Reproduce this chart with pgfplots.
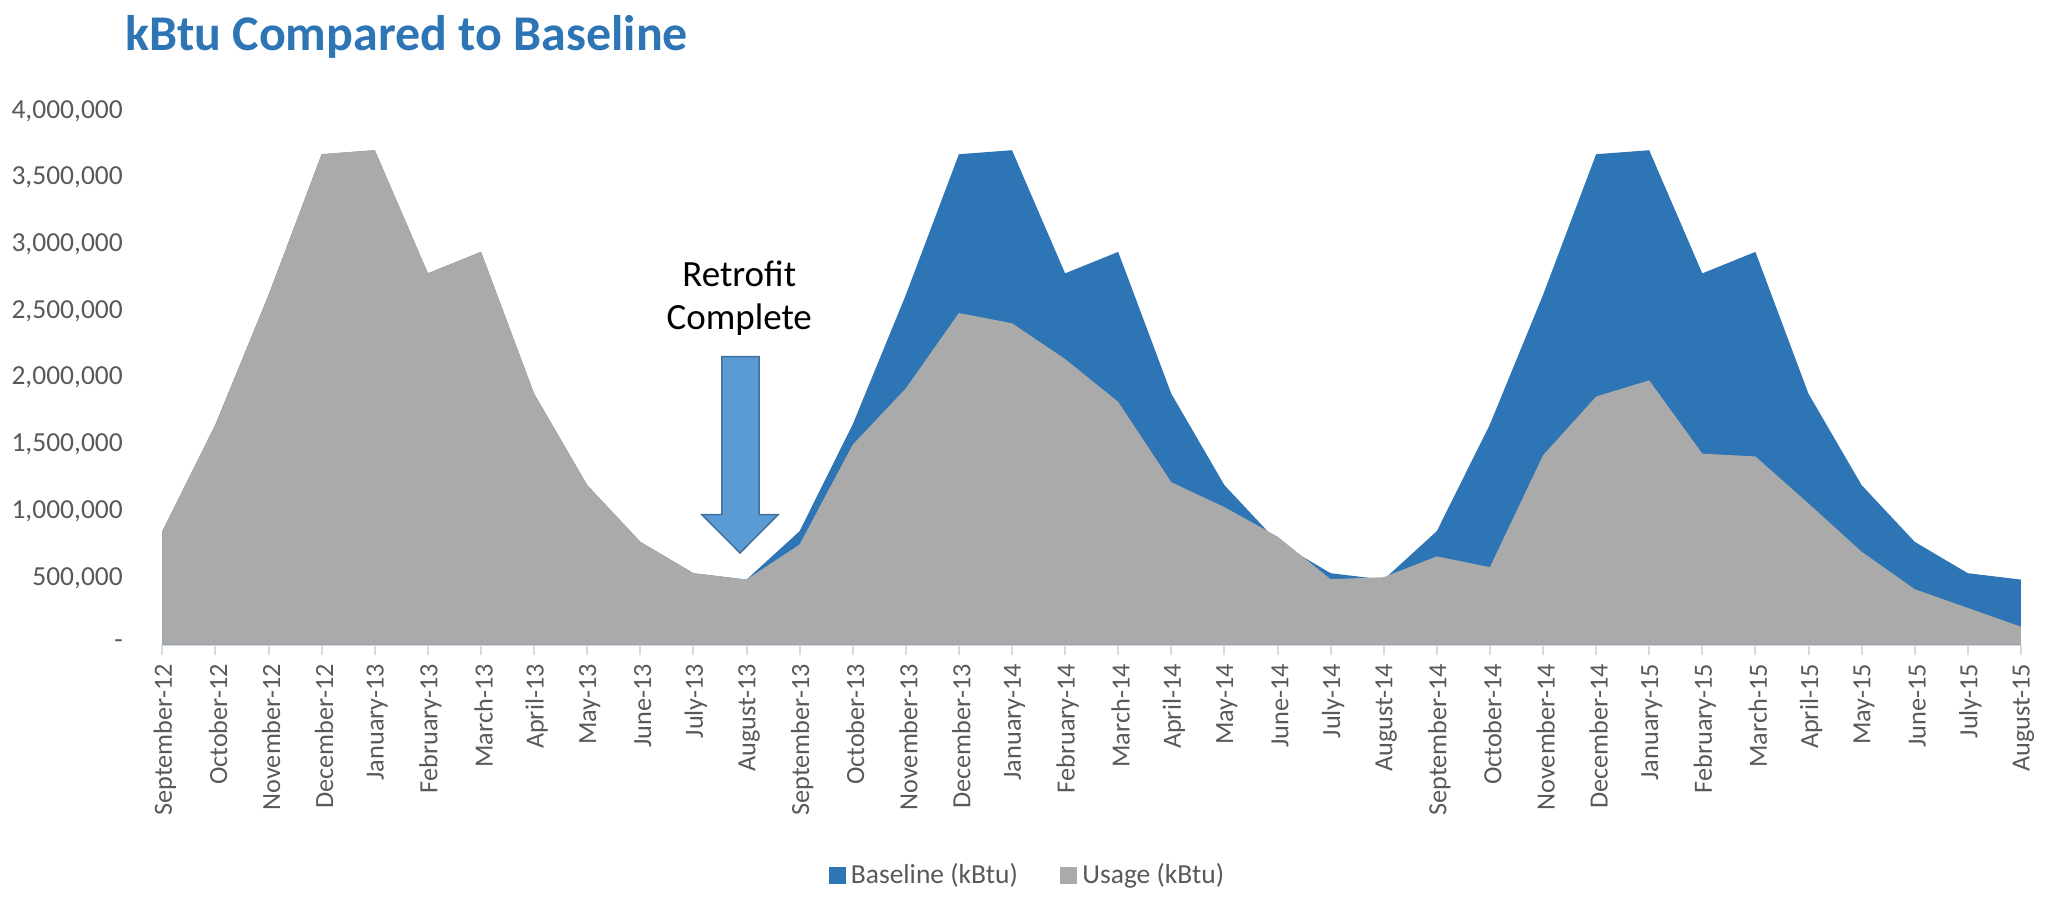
\documentclass[border=0pt]{standalone}
\usepackage{fontspec}
\setmainfont{Carlito}
\usepackage{pgfplots}
\pgfplotsset{compat=1.18}
\definecolor{baseblue}{RGB}{46,117,182}
\definecolor{usegray}{RGB}{170,170,170}
\definecolor{labelgray}{RGB}{89,89,89}
\definecolor{axisgray}{RGB}{217,217,217}
\definecolor{arrowfill}{RGB}{91,155,213}
\definecolor{arrowdraw}{RGB}{65,113,156}
\begin{document}
\begin{tikzpicture}[x=1pt,y=1pt]
\path[use as bounding box] (0,0) rectangle (819.2,362.8);
\node[anchor=west, text=baseblue, font=\fontsize{20}{24}\selectfont\bfseries, inner sep=0pt] at (50,348) {kBtu Compared to Baseline};
\begin{axis}[
  at={(64.96pt,104.96pt)}, anchor=south west,
  scale only axis, width=743.4pt, height=213.5pt,
  xmin=0, xmax=35, ymin=0, ymax=4000000,
  axis x line*=bottom, axis y line*=left,
  y axis line style={draw=none},
  x axis line style={draw=axisgray, line width=0.8pt, -},
  ytick style={draw=none},
  xtick style={draw=axisgray, line width=0.8pt},
  tick align=outside, major tick length=4.3pt,
  scaled y ticks=false,
  xtick={0,...,35},
  xticklabels={September-12,October-12,November-12,December-12,January-13,February-13,March-13,April-13,May-13,June-13,July-13,August-13,September-13,October-13,November-13,December-13,January-14,February-14,March-14,April-14,May-14,June-14,July-14,August-14,September-14,October-14,November-14,December-14,January-15,February-15,March-15,April-15,May-15,June-15,July-15,August-15},
  xticklabel style={rotate=90, anchor=east, text=labelgray, font=\fontsize{10.5}{12}\selectfont, yshift=-1pt},
  ytick={0,500000,1000000,1500000,2000000,2500000,3000000,3500000,4000000},
  yticklabels={{-\hspace{7pt}},{500,000},{1,000,000},{1,500,000},{2,000,000},{2,500,000},{3,000,000},{3,500,000},{4,000,000}},
  yticklabel style={text=labelgray, font=\fontsize{11}{13}\selectfont, xshift=-8pt},
  legend columns=2,
  legend style={at={(0.4663,-0.4317)}, anchor=center, draw=none, fill=none,
    font=\fontsize{11}{13}\selectfont, text=labelgray,
    /tikz/every even column/.append style={column sep=15pt}},
  legend image code/.code={\fill (0pt,-3.4pt) rectangle (6.8pt,3.4pt);},
]
\addplot[fill=baseblue, draw=none] coordinates {
(0,850000) (1,1650000) (2,2620000) (3,3675000) (4,3705000) (5,2782000)
(6,2943000) (7,1880000) (8,1195000) (9,770000) (10,535000) (11,487000)
(12,850000) (13,1650000) (14,2620000) (15,3675000) (16,3705000) (17,2782000)
(18,2943000) (19,1880000) (20,1195000) (21,770000) (22,535000) (23,487000)
(24,850000) (25,1650000) (26,2620000) (27,3675000) (28,3705000) (29,2782000)
(30,2943000) (31,1880000) (32,1195000) (33,770000) (34,535000) (35,487000)
} \closedcycle;
\addlegendentry{Baseline (kBtu)}
\addplot[fill=usegray, draw=none] coordinates {
(0,850000) (1,1650000) (2,2620000) (3,3675000) (4,3705000) (5,2782000)
(6,2943000) (7,1880000) (8,1195000) (9,770000) (10,535000) (11,487000)
(12,750000) (13,1498000) (14,1920000) (15,2485000) (16,2408000) (17,2140000)
(18,1819000) (19,1217000) (20,1030000) (21,810000) (22,490000) (23,505000)
(24,661000) (25,580000) (26,1418000) (27,1859000) (28,1980000) (29,1431000)
(30,1410000) (31,1057000) (32,696000) (33,415000) (34,275000) (35,134000)
} \closedcycle;
\addlegendentry{Usage (kBtu)}
\end{axis}
\fill[arrowfill, draw=arrowdraw, line width=0.6pt]
  (288.7,220.1) -- (303.6,220.1) -- (303.6,156.9) -- (311.2,156.9) -- (296,141.6)
  -- (280.8,156.9) -- (288.7,156.9) -- cycle;
\node[align=center, font=\fontsize{14.8}{17}\selectfont, inner sep=0pt] at (295.7,243.5) {Retrofit\\Complete};
\end{tikzpicture}
\end{document}
